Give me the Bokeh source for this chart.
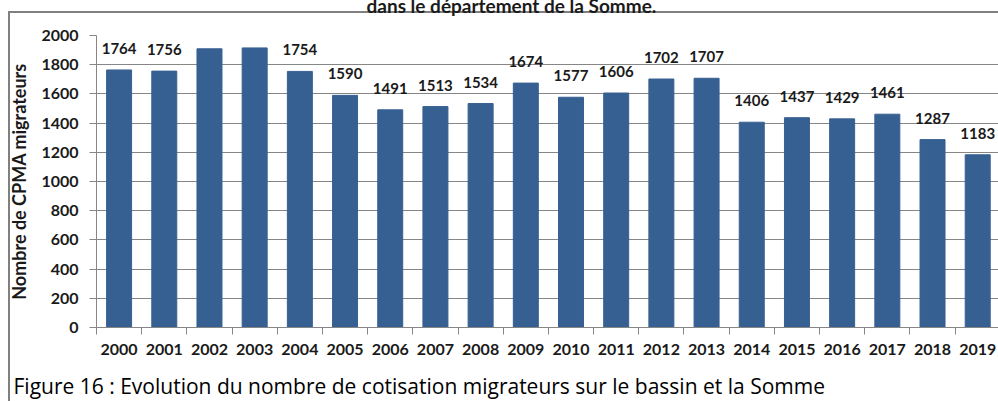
from bokeh.plotting import figure
from bokeh.models import ColumnDataSource, Range1d, FixedTicker, LabelSet, Title
from bokeh.core.properties import value
from bokeh.embed import file_html
from bokeh.resources import INLINE

years = [2000, 2001, 2002, 2003, 2004, 2005, 2006, 2007, 2008, 2009,
         2010, 2011, 2012, 2013, 2014, 2015, 2016, 2017, 2018, 2019]
values = [1764, 1756, 1909, 1915, 1754, 1590, 1491, 1513, 1534, 1674,
          1577, 1606, 1702, 1707, 1406, 1437, 1429, 1461, 1287, 1183]
y_ticks = [0, 200, 400, 600, 800, 1000, 1200, 1400, 1600, 1800, 2000]
title_text = "dans le département de la Somme."
y_label = "Nombre de CPMA migrateurs"
caption = "Figure 16 : Evolution du nombre de cotisation migrateurs sur le bassin et la Somme"

FONT = "Lato"
GRID = "#868686"
BAR = "#376092"
BORDER = "#808080"

src = ColumnDataSource(dict(year=years, value=values, label=[str(v) for v in values]))

p = figure(output_backend="svg", toolbar_location=None,
           frame_width=902, frame_height=292,
           min_border_left=96, min_border_right=0, min_border_top=61, min_border_bottom=76,
           x_range=Range1d(years[0] - 0.5, years[-1] + 0.46),
           y_range=Range1d(0, 2000))
# canvas shifted up so the cut title sits above the top border line;
# outer border (top + left) drawn as a CSS background behind the transparent canvas border
p.styles = {
    "margin-top": "-28px",
    "background-image": f"linear-gradient({BORDER},{BORDER}), linear-gradient({BORDER},{BORDER})",
    "background-size": "100% 2px, 2px 100%",
    "background-position": "8px 39px, 8px 39px",
    "background-repeat": "no-repeat",
}
p.outline_line_color = None
p.background_fill_color = "white"
p.border_fill_color = None

p.vbar(x="year", top="value", width=0.553, source=src, fill_color=BAR, line_color=BAR)

labels = LabelSet(x="year", y="value", text="label", source=src, y_offset=16,
                  text_align="center", text_baseline="alphabetic",
                  text_font=value(FONT), text_font_style="bold", text_font_size="15px",
                  text_color="#1a1a1a")
p.add_layout(labels)

# x axis
xa = p.xaxis[0]
xa.ticker = FixedTicker(ticks=years, minor_ticks=[y - 0.5 for y in years] + [years[-1] + 0.5])
xa.major_tick_out = 0
xa.major_tick_in = 0
xa.minor_tick_out = 7
xa.minor_tick_in = 0
xa.minor_tick_line_color = GRID
xa.axis_line_color = GRID
xa.major_label_text_font = FONT
xa.major_label_text_font_style = "bold"
xa.major_label_text_font_size = "16px"
xa.major_label_text_color = "#1a1a1a"
xa.major_label_standoff = 9

# y axis
ya = p.yaxis[0]
ya.ticker = FixedTicker(ticks=y_ticks)
ya.major_tick_out = 7
ya.major_tick_in = 0
ya.minor_tick_line_color = None
ya.major_tick_line_color = GRID
ya.axis_line_color = GRID
ya.major_label_text_font = FONT
ya.major_label_text_font_style = "bold"
ya.major_label_text_font_size = "16px"
ya.major_label_text_color = "#1a1a1a"
ya.major_label_standoff = 11
ya.axis_label = y_label
ya.axis_label_text_font = FONT
ya.axis_label_text_font_style = "bold"
ya.axis_label_text_font_size = "18px"
ya.axis_label_text_color = "#1a1a1a"
ya.axis_label_standoff = 8

p.xgrid.grid_line_color = None
p.ygrid.grid_line_color = GRID
p.ygrid.grid_line_width = 1

# chart title (top part cut off, as in the source)
p.add_layout(Title(text=title_text, align="left", offset=270, standoff=38,
                   text_font=FONT, text_font_style="bold", text_font_size="19px",
                   text_color="#1a1a1a"), "above")

# figure caption
p.add_layout(Title(text=caption, align="left", offset=-83, standoff=25,
                   text_font="Open Sans", text_font_style="normal", text_font_size="21px",
                   text_color="#000000"), "below")

open("out.html", "w").write(file_html(p, INLINE))
